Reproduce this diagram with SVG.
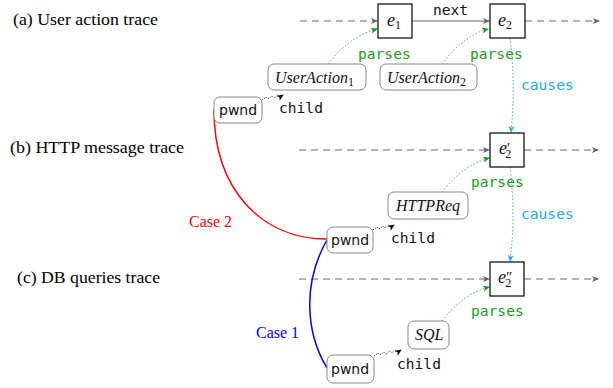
<svg xmlns="http://www.w3.org/2000/svg" width="613" height="388" viewBox="0 0 613 388">
<style>
.lbl{font-family:"Liberation Serif","DejaVu Serif",serif;font-size:16px;fill:#000}
.ev{fill:#fff;stroke:#000;stroke-width:1.2}
.nd{fill:#fff;stroke:#888;stroke-width:1}
.it{font-family:"Liberation Serif","DejaVu Serif",serif;font-style:italic;font-size:16px;fill:#111}
.ei{font-family:"Liberation Serif","DejaVu Serif",serif;font-style:italic;font-size:18px;fill:#111}
.sub{font-style:normal;font-size:12px}
.pr{font-style:normal;font-size:15px}
.mono{font-family:"DejaVu Sans Mono","Liberation Mono",monospace;font-size:14.6px}
.sans{font-family:"DejaVu Sans","Noto Sans",sans-serif;font-size:14px;fill:#111}
.dash{stroke:#999;stroke-width:1.5;stroke-dasharray:7 5;fill:none}
.grn{stroke:#33bb33;stroke-width:1;stroke-dasharray:1.5 2;fill:none}
.cyn{stroke:#22aaff;stroke-width:1;stroke-dasharray:1.5 2;fill:none}
.chd{stroke:#333;stroke-width:1;stroke-dasharray:1.2 1.5;fill:none}
</style>
<defs>
<marker id="ag" markerWidth="8" markerHeight="8" refX="6" refY="3" orient="auto" markerUnits="userSpaceOnUse"><path d="M0,0 L7,3 L0,6 L1.8,3 z" fill="#666"/></marker>
<marker id="agr" markerWidth="8" markerHeight="8" refX="6" refY="3" orient="auto" markerUnits="userSpaceOnUse"><path d="M0,0 L7,3 L0,6 L1.8,3 z" fill="#1a9a1a"/></marker>
<marker id="acy" markerWidth="8" markerHeight="8" refX="6" refY="3" orient="auto" markerUnits="userSpaceOnUse"><path d="M0,0 L7,3 L0,6 L1.8,3 z" fill="#22aaff"/></marker>
<marker id="abk" markerWidth="8" markerHeight="8" refX="6" refY="3" orient="auto" markerUnits="userSpaceOnUse"><path d="M0,0 L7,3 L0,6 L1.8,3 z" fill="#000"/></marker>
</defs>
<rect width="613" height="388" fill="#fff"/>

<g id="trace-labels">
<text class="lbl" x="13" y="25" textLength="145" lengthAdjust="spacingAndGlyphs">(a) User action trace</text>
<text class="lbl" x="10" y="153" textLength="174" lengthAdjust="spacingAndGlyphs">(b) HTTP message trace</text>
<text class="lbl" x="17" y="283" textLength="143" lengthAdjust="spacingAndGlyphs">(c) DB queries trace</text>
</g>

<g id="connectors">
<path class="dash" d="M300,21 H377" marker-end="url(#ag)"/>
<path d="M412,21 H489" stroke="#999" stroke-width="1.5" fill="none" marker-end="url(#ag)"/>
<path class="dash" d="M525,21 H599" marker-end="url(#ag)"/>
<path class="dash" d="M299,150 H489" marker-end="url(#ag)"/>
<path class="dash" d="M524,150 H598" marker-end="url(#ag)"/>
<path class="dash" d="M299,279 H489" marker-end="url(#ag)"/>
<path class="dash" d="M524,279 H598" marker-end="url(#ag)"/>
<path class="grn" d="M328,64 Q350,36 377,29" marker-end="url(#agr)"/>
<path class="grn" d="M442,64 Q463,36 488,29" marker-end="url(#agr)"/>
<path class="grn" d="M442,192 Q463,165 489,158" marker-end="url(#agr)"/>
<path class="grn" d="M442,321 Q463,294 489,287" marker-end="url(#agr)"/>
<path class="cyn" d="M510,38 Q516,86 511,132" marker-end="url(#acy)"/>
<path class="cyn" d="M510,167 Q516,215 510,261" marker-end="url(#acy)"/>
<path class="chd" d="M262,100 l4,-3 l2,2 l4,-3 l2,2 l4,-3 l2,2 l3,-2" marker-end="url(#abk)"/>
<path class="chd" d="M373,230 l4,-3 l2,2 l4,-3 l2,2 l4,-3 l2,2 l3,-2" marker-end="url(#abk)"/>
<path class="chd" d="M374,356 l4,-3 l2,2 l4,-3 l2,2 l4,-3 l2,2 l4,-3 l2,2 l3,-2" marker-end="url(#abk)"/>
<path d="M214,110 C214,190 262,239 327,239" stroke="#ff0000" stroke-width="1.5" fill="none"/>
<path d="M327,240 C304,280 304,330 327,368" stroke="#0000ff" stroke-width="1.5" fill="none"/>
</g>

<g id="edge-labels">
<text class="mono" x="433" y="15" fill="#111">next</text>
<text class="mono" x="358" y="59" fill="#1a9a1a">parses</text>
<text class="mono" x="470" y="59" fill="#1a9a1a">parses</text>
<text class="mono" x="521" y="90" fill="#22aaff">causes</text>
<text class="mono" x="279" y="113" fill="#111">child</text>
<text class="mono" x="471" y="187" fill="#1a9a1a">parses</text>
<text class="mono" x="521" y="219" fill="#22aaff">causes</text>
<text class="mono" x="391" y="243" fill="#111">child</text>
<text class="mono" x="471" y="316" fill="#1a9a1a">parses</text>
<text class="mono" x="397" y="369" fill="#111">child</text>
<text class="lbl" x="189" y="227" style="fill:#ff0000">Case 2</text>
<text class="lbl" x="256" y="338" style="fill:#0000ff">Case 1</text>
</g>

<g id="e1"><rect class="ev" x="378" y="4" width="34" height="34"/><text class="ei" x="387" y="26">e<tspan class="sub" dy="3">1</tspan></text></g>
<g id="e2"><rect class="ev" x="490" y="4" width="35" height="34"/><text class="ei" x="498" y="26">e<tspan class="sub" dy="3">2</tspan></text></g>
<g id="e2p"><rect class="ev" x="490" y="133" width="34" height="34"/><text class="ei" x="499" y="154">e<tspan class="pr" dy="-1">′</tspan><tspan class="sub" dx="-5" dy="5">2</tspan></text></g>
<g id="e2pp"><rect class="ev" x="490" y="262" width="34" height="34"/><text class="ei" x="498" y="283">e<tspan class="pr" dy="-1">″</tspan><tspan class="sub" dx="-7" dy="5">2</tspan></text></g>

<g id="useraction1"><rect class="nd" x="268" y="64" width="98" height="26" rx="6"/><text class="it" x="275" y="83">UserAction<tspan class="sub" dy="3">1</tspan></text></g>
<g id="useraction2"><rect class="nd" x="380" y="64" width="97" height="26" rx="6"/><text class="it" x="387" y="83">UserAction<tspan class="sub" dy="3">2</tspan></text></g>
<g id="httpreq"><rect class="nd" x="388" y="192" width="80" height="27" rx="6"/><text class="it" x="396" y="211">HTTPReq</text></g>
<g id="sql"><rect class="nd" x="408" y="321" width="41" height="28" rx="6"/><text class="it" x="415" y="340">SQL</text></g>

<g id="pwnd-a"><rect class="nd" x="214" y="97" width="48" height="26" rx="6"/><text class="sans" x="219" y="115">pwnd</text></g>
<g id="pwnd-b"><rect class="nd" x="327" y="227" width="46" height="26" rx="6"/><text class="sans" x="331" y="245">pwnd</text></g>
<g id="pwnd-c"><rect class="nd" x="327" y="355" width="47" height="28" rx="6"/><text class="sans" x="331" y="374">pwnd</text></g>
</svg>
